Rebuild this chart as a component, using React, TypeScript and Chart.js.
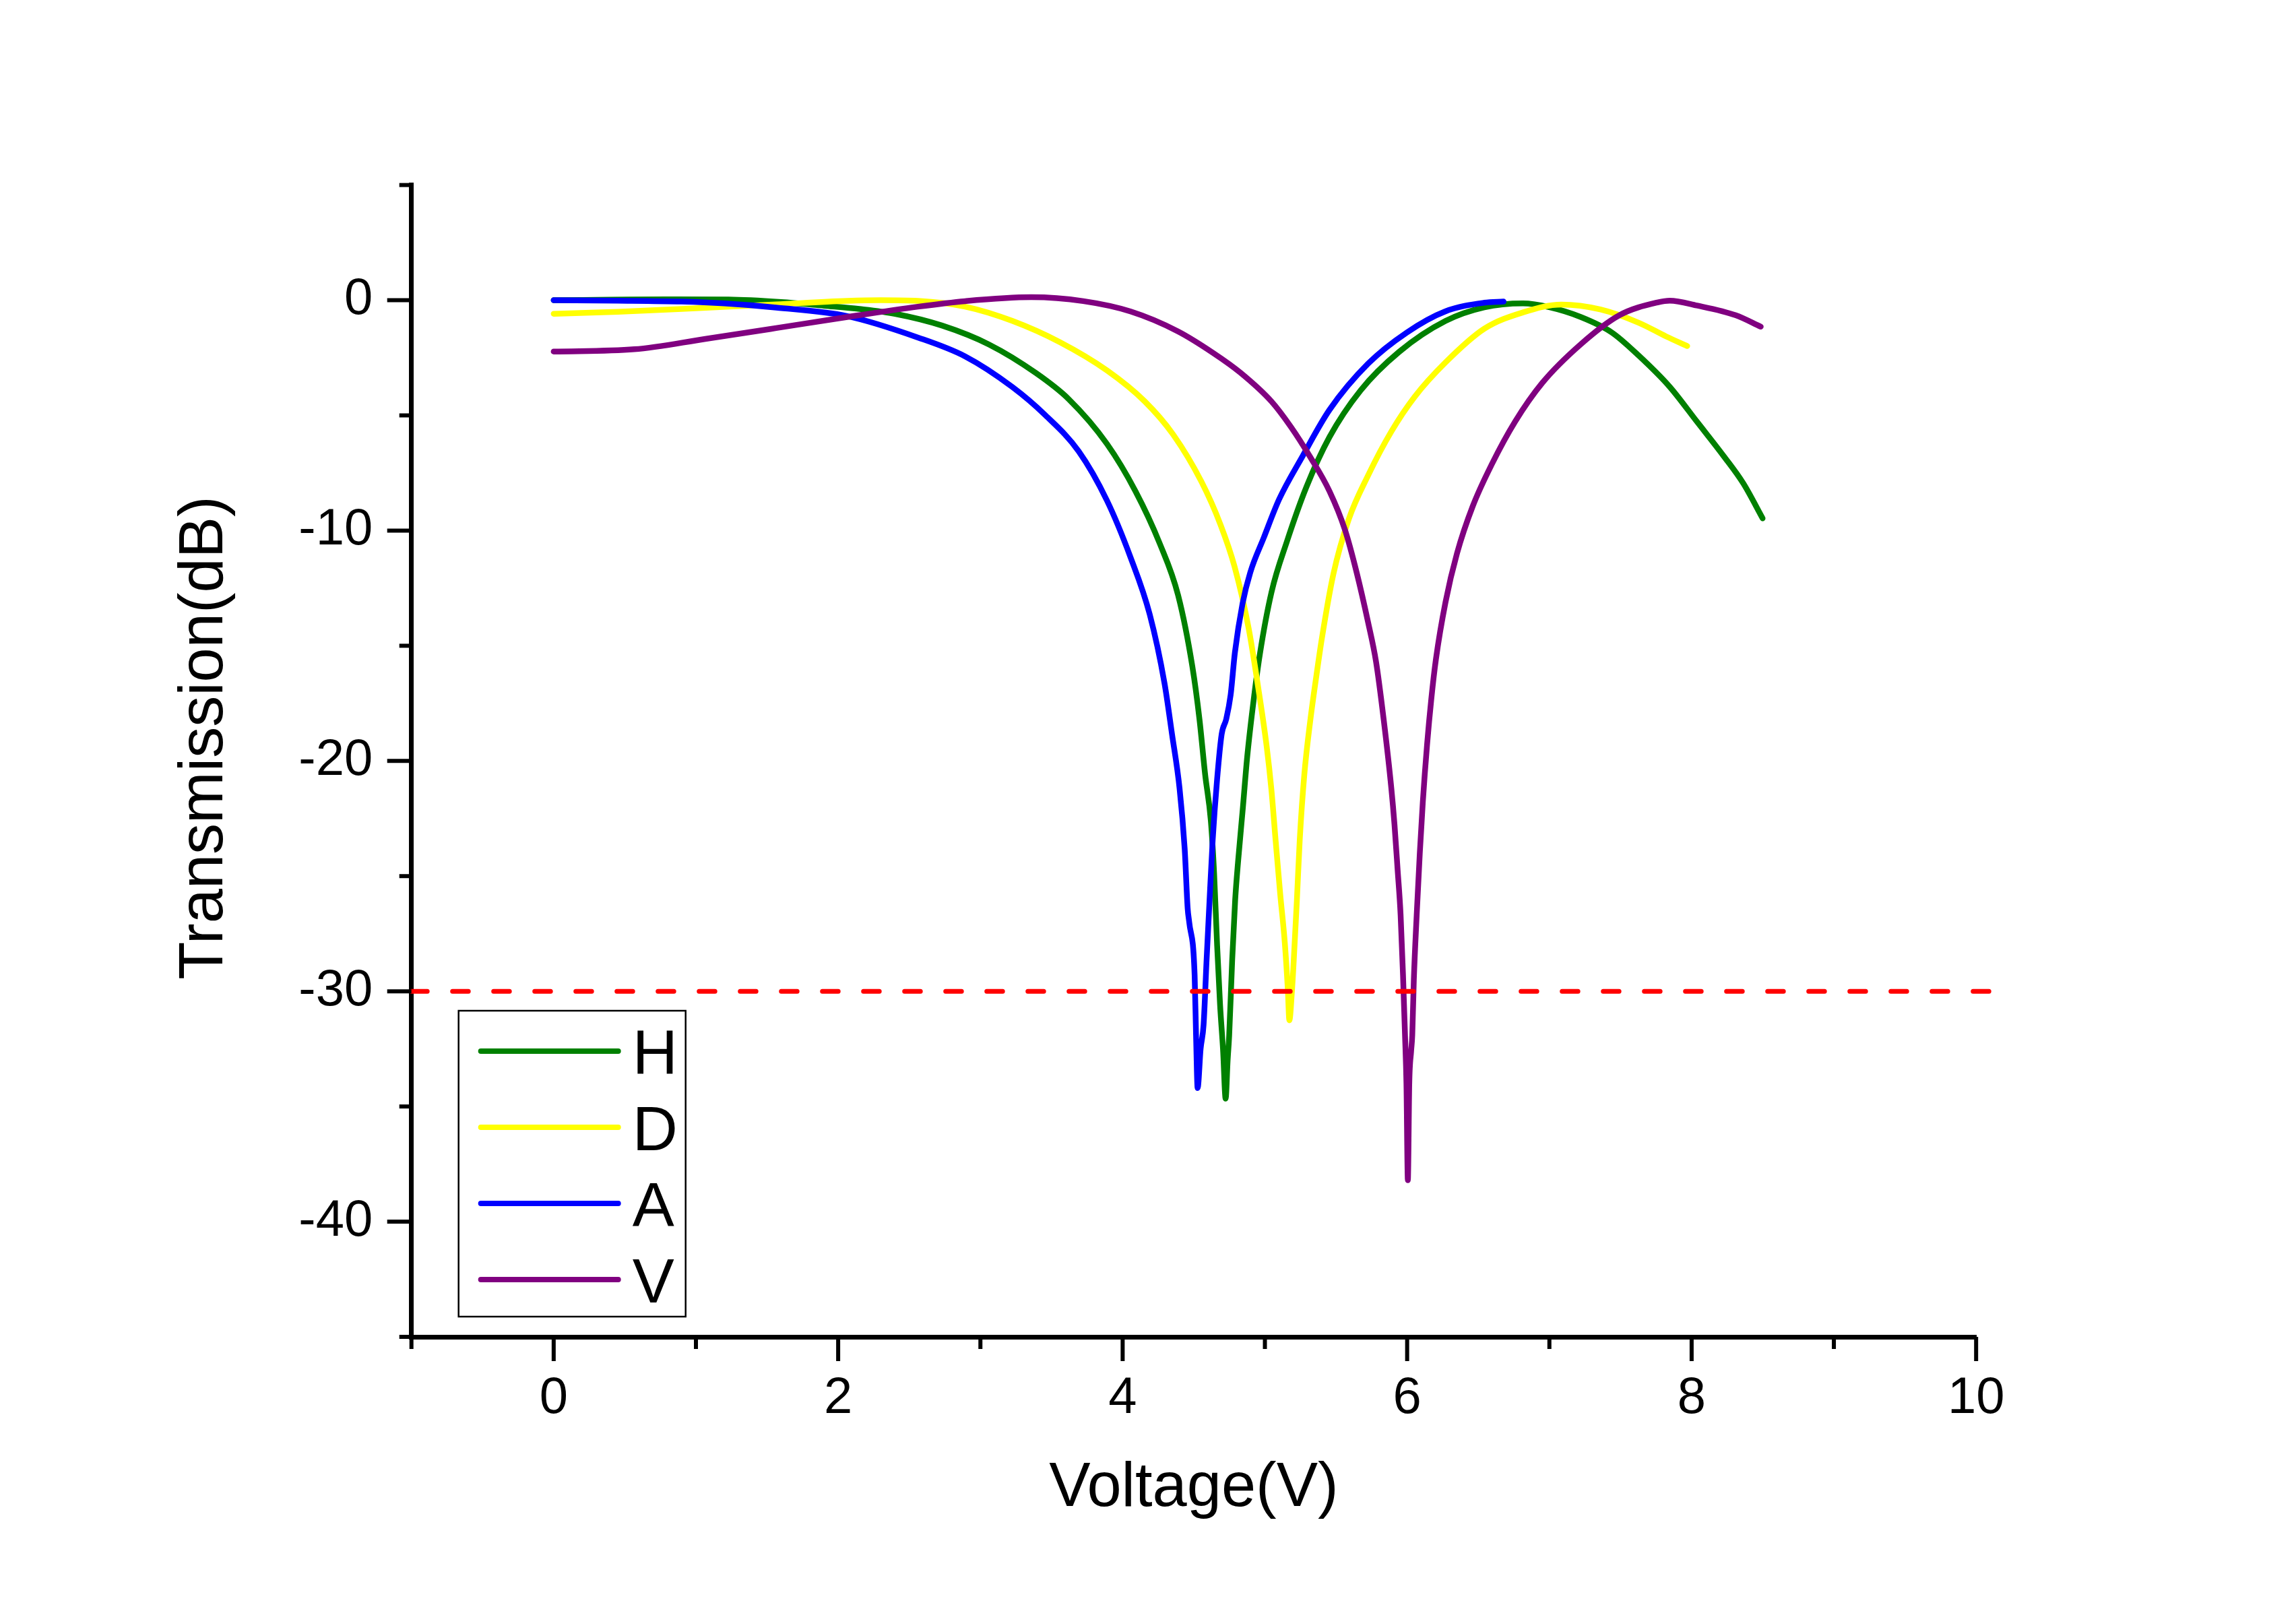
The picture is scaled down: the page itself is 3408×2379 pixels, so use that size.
import React, { useEffect, useRef } from "react";
import { Chart, registerables } from "chart.js";

Chart.register(...registerables);

// series (Voltage in V, Transmission in dB)
const hVoltage = [0, 0.4, 0.8, 1.23, 1.6, 1.9, 2.15, 2.4, 2.73, 3.06, 3.39, 3.62, 3.89, 4.09, 4.26, 4.39, 4.49, 4.54, 4.58, 4.62, 4.643, 4.664, 4.685, 4.706, 4.724, 4.738, 4.749, 4.77, 4.791, 4.812, 4.844, 4.876, 4.92, 4.965, 5.047, 5.155, 5.291, 5.454, 5.672, 5.944, 6.27, 6.542, 6.814, 7.004, 7.221, 7.439, 7.629, 7.846, 8.037, 8.227, 8.363, 8.499];
const hTransmission = [0, 0.02, 0.04, 0.03, -0.08, -0.24, -0.38, -0.59, -1.1, -1.92, -3.16, -4.29, -6.24, -8.29, -10.55, -12.81, -15.9, -18.19, -20.6, -22.6, -24.9, -27.99, -30.6, -32.56, -34.66, -33.0, -31.91, -28.64, -26.03, -24.33, -22.11, -19.8, -17.4, -15.35, -12.66, -10.47, -8.12, -5.94, -3.92, -2.24, -0.9, -0.31, -0.14, -0.31, -0.73, -1.4, -2.41, -3.76, -5.27, -6.78, -7.95, -9.47];

const dVoltage = [0, 0.45, 0.9, 1.564, 2.063, 2.3, 2.561, 2.893, 3.225, 3.558, 3.89, 4.155, 4.355, 4.554, 4.687, 4.787, 4.886, 4.96, 5.013, 5.045, 5.076, 5.108, 5.14, 5.161, 5.172, 5.19, 5.203, 5.225, 5.245, 5.277, 5.32, 5.362, 5.4, 5.481, 5.59, 5.726, 5.889, 6.052, 6.27, 6.542, 6.814, 7.085, 7.357, 7.629, 7.82, 7.969];
const dTransmission = [-0.59, -0.5, -0.38, -0.18, -0.03, 0.0, -0.03, -0.28, -0.9, -1.82, -3.05, -4.39, -5.83, -7.88, -9.73, -11.57, -14.25, -17.1, -19.4, -21.2, -23.5, -25.8, -27.9, -29.9, -31.26, -30.0, -28.64, -26.03, -23.42, -20.6, -18.2, -16.3, -14.7, -11.9, -9.5, -7.6, -5.7, -4.2, -2.7, -1.24, -0.53, -0.19, -0.4, -0.98, -1.57, -1.99];

const aVoltage = [0, 0.45, 0.9, 1.2, 1.564, 2.063, 2.561, 2.893, 3.225, 3.458, 3.69, 3.89, 4.056, 4.19, 4.294, 4.347, 4.4, 4.436, 4.457, 4.468, 4.506, 4.516, 4.527, 4.548, 4.569, 4.59, 4.611, 4.633, 4.664, 4.696, 4.728, 4.759, 4.789, 4.843, 4.897, 4.992, 5.101, 5.264, 5.454, 5.726, 5.998, 6.27, 6.542, 6.678];
const aTransmission = [0, -0.02, -0.06, -0.14, -0.32, -0.69, -1.62, -2.44, -3.77, -5.0, -6.55, -8.7, -11.17, -13.63, -16.62, -18.84, -21.19, -23.81, -26.4, -27.0, -29.3, -31.91, -34.2, -32.5, -31.45, -28.64, -26.03, -23.42, -20.8, -18.84, -18.19, -17.14, -15.3, -13.16, -11.82, -10.31, -8.63, -6.78, -4.76, -2.75, -1.4, -0.48, -0.11, -0.06];

const vVoltage = [0, 0.567, 1.066, 1.564, 2.063, 2.561, 2.893, 3.358, 3.723, 4.056, 4.388, 4.639, 4.829, 5.047, 5.183, 5.318, 5.454, 5.563, 5.645, 5.726, 5.781, 5.835, 5.889, 5.911, 5.933, 5.954, 5.971, 5.985, 5.995, 6.005, 6.015, 6.028, 6.036, 6.047, 6.067, 6.089, 6.11, 6.14, 6.17, 6.202, 6.27, 6.351, 6.46, 6.596, 6.759, 6.95, 7.221, 7.493, 7.765, 7.846, 8.037, 8.309, 8.486];
const vTransmission = [-2.23, -2.13, -1.68, -1.21, -0.73, -0.28, -0.04, 0.13, -0.04, -0.49, -1.35, -2.3, -3.15, -4.4, -5.5, -6.8, -8.29, -9.97, -11.82, -14.0, -15.68, -18.2, -21.2, -22.76, -24.72, -26.68, -29.3, -31.91, -34.0, -38.2, -34.0, -32.6, -31.9, -29.5, -26.7, -24.0, -21.8, -19.3, -17.3, -15.6, -13.1, -10.98, -8.96, -7.11, -5.27, -3.59, -1.91, -0.65, -0.09, -0.02, -0.23, -0.65, -1.15];

// -30 dB reference line
const thresholdVoltage = [-1, 10.18];
const thresholdLevel = [-30, -30];

const xTickLabels = ["0", "2", "4", "6", "8", "10"];
const yTickLabels = ["0", "-10", "-20", "-30", "-40"];
const legendLabels = ["H", "D", "A", "V"];

const FONT = '"Liberation Sans", Arial, Helvetica, sans-serif';

const zip = (xs: number[], ys: number[]) => xs.map((x, i) => ({ x, y: ys[i] }));

// major/minor tick marks drawn outward from the axis lines
const tickMarks = {
  id: "tickMarks",
  afterDraw(chart: any) {
    const { ctx, chartArea } = chart;
    const xs = chart.scales.x;
    const ys = chart.scales.y;
    ctx.save();
    ctx.strokeStyle = "#000";
    ctx.lineWidth = 6;
    xs.ticks.forEach((t: any) => {
      const px = xs.getPixelForValue(t.value);
      const len = xTickLabels.includes(String(t.value)) ? 36 : 18;
      ctx.beginPath();
      ctx.moveTo(px, chartArea.bottom);
      ctx.lineTo(px, chartArea.bottom + len);
      ctx.stroke();
    });
    ys.ticks.forEach((t: any) => {
      const py = ys.getPixelForValue(t.value);
      const len = yTickLabels.includes(String(t.value)) ? 36 : 18;
      ctx.beginPath();
      ctx.moveTo(chartArea.left, py);
      ctx.lineTo(chartArea.left - len, py);
      ctx.stroke();
    });
    ctx.restore();
  },
};

// y axis title, placed a little above the axis centre as in the original
const yTitle = {
  id: "yTitle",
  afterDraw(chart: any) {
    const { ctx, chartArea } = chart;
    ctx.save();
    ctx.translate(chartArea.left - 281, 1095);
    ctx.rotate(-Math.PI / 2);
    ctx.fillStyle = "#000";
    ctx.font = `92px ${FONT}`;
    ctx.textAlign = "center";
    ctx.textBaseline = "alphabetic";
    ctx.fillText("Transmission(dB)", 0, 0);
    ctx.restore();
  },
};

// boxed legend inside the lower left corner of the plot
const boxLegend = {
  id: "boxLegend",
  afterDraw(chart: any) {
    const { ctx, chartArea } = chart;
    const left = chartArea.left + 70;
    const top = chartArea.bottom - 484;
    const w = 337;
    const h = 454;
    ctx.save();
    ctx.fillStyle = "#fff";
    ctx.fillRect(left, top, w, h);
    ctx.strokeStyle = "#000";
    ctx.lineWidth = 2.5;
    ctx.strokeRect(left, top, w, h);
    const sets = chart.data.datasets.filter((d: any) => legendLabels.includes(d.label));
    sets.forEach((ds: any, i: number) => {
      const cy = top + 60 + i * 113;
      ctx.strokeStyle = ds.borderColor;
      ctx.lineWidth = 8;
      ctx.lineCap = "round";
      ctx.beginPath();
      ctx.moveTo(left + 33, cy);
      ctx.lineTo(left + 237, cy);
      ctx.stroke();
      ctx.fillStyle = "#000";
      ctx.font = `93px ${FONT}`;
      ctx.textAlign = "left";
      ctx.textBaseline = "alphabetic";
      ctx.fillText(ds.label, left + 258, cy + 33.5);
    });
    ctx.restore();
  },
};

const line = (label: string, xs: number[], ys: number[], color: string, order: number) => ({
  label,
  data: zip(xs, ys),
  borderColor: color,
  backgroundColor: color,
  borderWidth: 8.5,
  pointRadius: 0,
  fill: false,
  cubicInterpolationMode: "monotone" as const,
  borderJoinStyle: "round" as const,
  borderCapStyle: "round" as const,
  order,
});

export default function App() {
  const canvasRef = useRef<HTMLCanvasElement>(null);
  const chartRef = useRef<Chart | null>(null);

  useEffect(() => {
    document.body.style.margin = "0";
    if (!canvasRef.current) return;
    if (chartRef.current) chartRef.current.destroy();

    chartRef.current = new Chart(canvasRef.current, {
      type: "line",
      data: {
        datasets: [
          line("H", hVoltage, hTransmission, "#008000", 4),
          line("D", dVoltage, dTransmission, "#FFFF00", 3),
          line("A", aVoltage, aTransmission, "#0000FF", 2),
          line("V", vVoltage, vTransmission, "#800080", 1),
          {
            label: "threshold",
            data: zip(thresholdVoltage, thresholdLevel),
            borderColor: "#FF0000",
            borderWidth: 7,
            borderDash: [23.5, 37.5],
            borderCapStyle: "round",
            pointRadius: 0,
            fill: false,
            clip: false,
            order: 0,
          } as any,
        ],
      },
      options: {
        animation: false,
        responsive: true,
        maintainAspectRatio: false,
        layout: { padding: { left: 0, right: 474.8, top: 274.6, bottom: 113.8 } },
        plugins: {
          legend: { display: false },
          tooltip: { enabled: false },
        },
        scales: {
          x: {
            type: "linear",
            min: -1,
            max: 10,
            afterFit: (s: any) => {
              s.height = 281.2;
              s.paddingLeft = 0;
              s.paddingRight = 0;
            },
            grid: { display: false, drawTicks: false },
            border: { display: true, color: "#000", width: 7 },
            ticks: {
              stepSize: 1,
              autoSkip: false,
              maxRotation: 0,
              padding: 46,
              color: "#000",
              font: { family: FONT, size: 76 },
              callback: (v: any) => (xTickLabels.includes(String(v)) ? String(v) : ""),
            },
            title: {
              display: true,
              text: "Voltage(V)",
              color: "#000",
              padding: 0,
              font: { family: FONT, size: 92 },
            },
          },
          y: {
            type: "linear",
            min: -45,
            max: 5,
            afterFit: (s: any) => {
              s.width = 610.7;
              s.paddingTop = 0;
              s.paddingBottom = 0;
            },
            grid: { display: false, drawTicks: false },
            border: { display: true, color: "#000", width: 7 },
            ticks: {
              stepSize: 5,
              autoSkip: false,
              padding: 57.5,
              color: "#000",
              font: { family: FONT, size: 76 },
              callback: (v: any) => (yTickLabels.includes(String(v)) ? String(v) : ""),
            },
          },
        },
      },
      plugins: [tickMarks, yTitle, boxLegend],
    });

    return () => {
      if (chartRef.current) {
        chartRef.current.destroy();
        chartRef.current = null;
      }
    };
  }, []);

  return (
    <div style={{ position: "relative", width: "3408px", height: "2379px", background: "#fff" }}>
      <canvas ref={canvasRef} />
    </div>
  );
}
